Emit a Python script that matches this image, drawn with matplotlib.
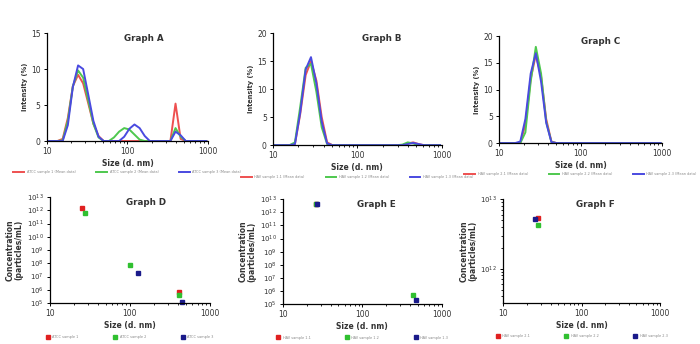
import matplotlib.pyplot as plt
import matplotlib.ticker as mticker
import numpy as np

# =========================
# DATA
# =========================
# tamaños de bin (d. nm) del equipo
sizes = [10.1, 11.7, 13.5, 15.7, 18.2, 21.0, 24.4, 28.2, 32.7, 37.8, 43.8, 50.7,
         58.8, 68.1, 78.8, 91.3, 105.7, 122.4, 141.8, 164.2, 190.1, 220.2, 255.0,
         295.3, 342.0, 396.1, 458.7, 531.2, 615.1, 712.4, 825.0, 955.4]

a_red = [0, 0, 0, 0.3, 3.2, 7.6, 9.2, 8.0, 5.2, 2.4, 0.7, 0,
         0, 0, 0, 0, 0, 0, 0, 0, 0, 0, 0,
         0, 0, 5.2, 0.3, 0, 0, 0, 0, 0]
a_green = [0, 0, 0, 0.1, 2.8, 7.6, 9.8, 8.8, 5.6, 2.4, 0.5, 0,
           0, 0.5, 1.3, 1.8, 1.6, 0.9, 0.2, 0, 0, 0, 0,
           0, 0, 1.8, 0.6, 0, 0, 0, 0, 0]
a_blue = [0, 0, 0, 0, 2.2, 7.5, 10.5, 10.0, 6.4, 2.8, 0.6, 0,
          0, 0, 0, 0.6, 1.7, 2.3, 1.8, 0.7, 0, 0, 0,
          0, 0, 1.3, 0.8, 0, 0, 0, 0, 0]

b_red = [0, 0, 0, 0, 0.2, 5.5, 12.5, 15.0, 11.5, 5.0, 0.5, 0,
         0, 0, 0, 0, 0, 0, 0, 0, 0, 0, 0,
         0, 0, 0.3, 0.5, 0.2, 0, 0, 0, 0]
b_green = [0, 0, 0, 0, 0.5, 6.8, 13.8, 14.5, 9.5, 3.2, 0.2, 0,
           0, 0, 0, 0, 0, 0, 0, 0, 0, 0, 0,
           0, 0.1, 0.5, 0.3, 0, 0, 0, 0, 0]
b_blue = [0, 0, 0, 0, 0.2, 5.8, 13.5, 15.7, 11.0, 4.2, 0.3, 0,
          0, 0, 0, 0, 0, 0, 0, 0, 0, 0, 0,
          0, 0, 0.2, 0.4, 0.2, 0, 0, 0, 0]

c_red = [0, 0, 0, 0, 0, 3.5, 12.0, 16.5, 12.5, 4.5, 0.3, 0,
         0, 0, 0, 0, 0, 0, 0, 0, 0, 0, 0,
         0, 0, 0, 0, 0, 0, 0, 0, 0]
c_green = [0, 0, 0, 0, 0, 2.0, 11.5, 18.0, 13.0, 4.0, 0.2, 0,
           0, 0, 0, 0, 0, 0, 0, 0, 0, 0, 0,
           0, 0, 0, 0, 0, 0, 0, 0, 0]
c_blue = [0, 0, 0, 0, 0.3, 4.5, 13.0, 16.8, 11.5, 3.8, 0.2, 0,
          0, 0, 0, 0, 0, 0, 0, 0, 0, 0, 0,
          0, 0, 0, 0, 0, 0, 0, 0, 0]

# concentraciones (picos)
d_red_x, d_red_y = [25.5, 415], [1.5e12, 6.8e5]
d_green_x, d_green_y = [27.5, 101, 415], [6.0e11, 7.4e7, 4.0e5]
d_blue_x, d_blue_y = [126, 447], [1.8e7, 1.2e5]

e_red_x, e_red_y = [26], [4.3e12]
e_green_x, e_green_y = [26.5, 435], [4.5e12, 4.9e5]
e_blue_x, e_blue_y = [27, 470], [4.0e12, 2.0e5]

f_red_x, f_red_y = [28], [5.4e12]
f_green_x, f_green_y = [28], [4.2e12]
f_blue_x, f_blue_y = [25.6], [5.2e12]

labels_a = ['ATCC sample 1 (Mean data)', 'ATCC sample 2 (Mean data)', 'ATCC sample 3 (Mean data)']
labels_b = ['HAV sample 1.1 (Mean data)', 'HAV sample 1.2 (Mean data)', 'HAV sample 1.3 (Mean data)']
labels_c = ['HAV sample 2.1 (Mean data)', 'HAV sample 2.2 (Mean data)', 'HAV sample 2.3 (Mean data)']
labels_d = ['ATCC sample 1', 'ATCC sample 2', 'ATCC sample 3']
labels_e = ['HAV sample 1.1', 'HAV sample 1.2', 'HAV sample 1.3']
labels_f = ['HAV sample 2.1', 'HAV sample 2.2', 'HAV sample 2.3']

line_cols = ['#ee5050', '#4ec84e', '#4a4ae0']
dot_cols = ['#e02020', '#30c030', '#1a1a8a']

fig = plt.figure(figsize=(7, 3.44), dpi=100)


def style_axis(ax):
    ax.spines['top'].set_visible(False)
    ax.spines['right'].set_visible(False)
    ax.spines['left'].set_linewidth(0.9)
    ax.spines['bottom'].set_linewidth(0.9)
    ax.set_xscale('log')
    ax.set_xlim(10, 1000)
    ax.set_xticks([10, 100, 1000])
    ax.set_xticklabels(['10', '100', '1000'])
    ax.tick_params(labelsize=5.5, length=2.5, width=0.7, pad=2, labelcolor='#333333')
    ax.tick_params(which='minor', length=1.5, width=0.6)
    ax.set_xlabel('Size (d. nm)', fontsize=5.5, fontweight='bold', labelpad=2,
                  color='#333333')


# =========================
# 1. INTENSIDAD (A, B, C)
# =========================
rects_top = [[0.067, 0.590, 0.230, 0.314],
             [0.390, 0.578, 0.241, 0.326],
             [0.713, 0.584, 0.233, 0.311]]
top_data = [([a_red, a_green, a_blue], labels_a, 15, 'Graph A', 0.60),
            ([b_red, b_green, b_blue], labels_b, 20, 'Graph B', 0.645),
            ([c_red, c_green, c_blue], labels_c, 20, 'Graph C', 0.62)]

for rect, (series, labs, ymax, title, tx) in zip(rects_top, top_data):
    ax = fig.add_axes(rect)
    for vals, col, lab in zip(series, line_cols, labs):
        ax.plot(sizes, vals, color=col, lw=1.4, label=lab)
    style_axis(ax)
    ax.set_ylim(0, ymax)
    ax.set_yticks(np.arange(0, ymax + 1, 5))
    ax.set_ylabel('Intensity (%)', fontsize=4.8, fontweight='bold', labelpad=2,
                  color='#333333')
    ax.text(tx, 0.95, title, transform=ax.transAxes, ha='center', va='center',
            fontsize=6.3, fontweight='bold', color='#333333')
    ax.legend(loc='upper center', bbox_to_anchor=(0.5, -0.24), ncol=3, fontsize=2.5,
              frameon=False, handlelength=3, columnspacing=6, labelcolor='#888888')

# =========================
# 2. CONCENTRACIÓN (D, E, F)
# =========================
rects_bot = [[0.071, 0.119, 0.229, 0.308],
             [0.404, 0.116, 0.227, 0.305],
             [0.719, 0.119, 0.224, 0.302]]
bot_data = [([(d_red_x, d_red_y), (d_green_x, d_green_y), (d_blue_x, d_blue_y)], labels_d,
             (1e5, 1e13), 'Graph D', 0.60),
            ([(e_red_x, e_red_y), (e_green_x, e_green_y), (e_blue_x, e_blue_y)], labels_e,
             (1e5, 1e13), 'Graph E', 0.59),
            ([(f_red_x, f_red_y), (f_green_x, f_green_y), (f_blue_x, f_blue_y)], labels_f,
             (3.2e11, 1e13), 'Graph F', 0.59)]

for rect, (series, labs, ylim, title, tx) in zip(rects_bot, bot_data):
    ax = fig.add_axes(rect)
    for (xs, ys), col, lab in zip(series, dot_cols, labs):
        ax.plot(xs, ys, 's', color=col, ms=2.8, label=lab, clip_on=False)
    style_axis(ax)
    ax.set_yscale('log')
    ax.set_ylim(*ylim)
    if ylim[0] < 1e6:
        exps = range(5, 14)
        ax.set_yticks([10.0 ** k for k in exps])
        ax.set_yticklabels(['$10^{%d}$' % k for k in exps])
        ax.yaxis.set_minor_locator(mticker.NullLocator())
    else:
        ax.set_yticks([1e12, 1e13])
        ax.set_yticklabels(['$10^{12}$', '$10^{13}$'])
    ax.tick_params(axis='y', labelsize=5)
    ax.set_ylabel('Concentration\n(particles/mL)', fontsize=5.5, fontweight='bold',
                  labelpad=2, linespacing=1.0, color='#333333')
    ax.text(tx, 0.95, title, transform=ax.transAxes, ha='center', va='center',
            fontsize=6.3, fontweight='bold', color='#333333')
    ax.legend(loc='upper center', bbox_to_anchor=(0.5, -0.27), ncol=3, fontsize=2.5,
              frameon=False, handlelength=1, columnspacing=10, labelcolor='#888888')

plt.savefig('out.png', dpi=100)
